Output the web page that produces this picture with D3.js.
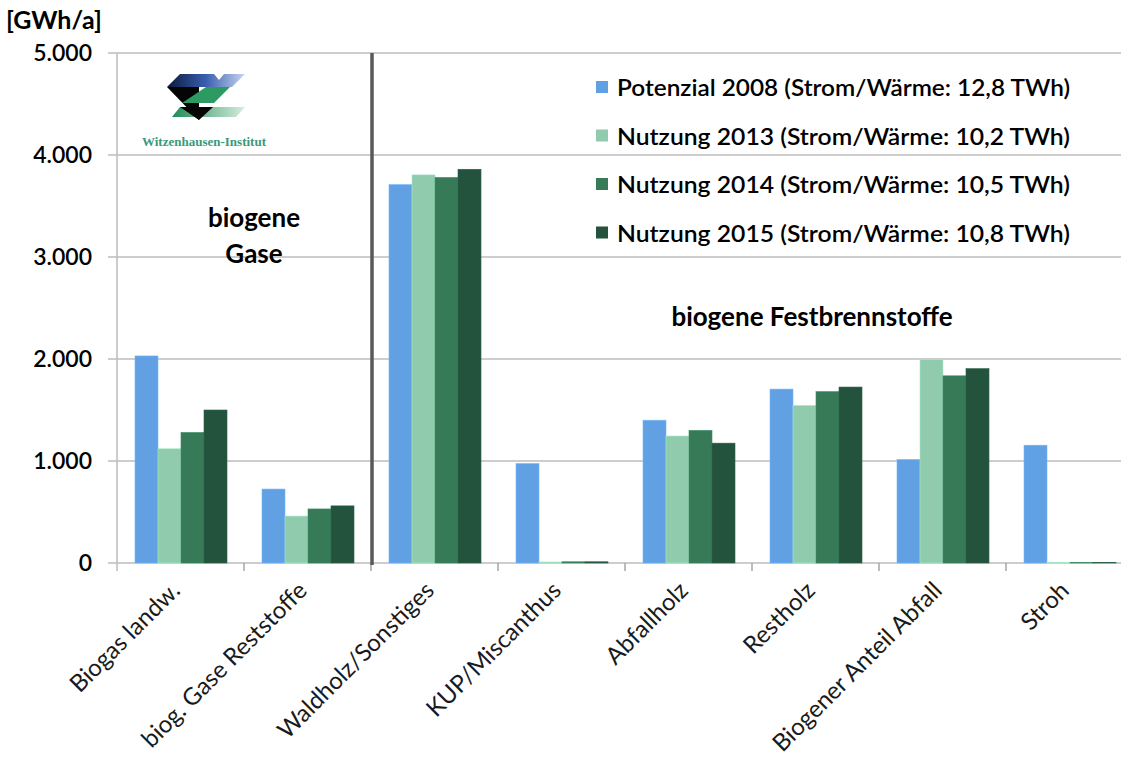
<!DOCTYPE html>
<html><head><meta charset="utf-8">
<script src="https://cdn.jsdelivr.net/npm/d3@7"></script>
<style>body{margin:0;background:#fff;} svg{display:block;font-family:Lato,"Open Sans",sans-serif;}</style>
</head><body>
<svg id="c" width="1123" height="762"></svg>
<script>
const categories = ["Biogas landw.","biog. Gase Reststoffe","Waldholz/Sonstiges","KUP/Miscanthus","Abfallholz","Restholz","Biogener Anteil Abfall","Stroh"];
const seriesNames = ["Potenzial 2008 (Strom/Wärme: 12,8 TWh)","Nutzung 2013 (Strom/Wärme: 10,2 TWh)","Nutzung 2014 (Strom/Wärme: 10,5 TWh)","Nutzung 2015 (Strom/Wärme: 10,8 TWh)"];
const potenzial2008 = [2030, 725, 3710, 975, 1400, 1705, 1015, 1155];
const nutzung2013  = [1120, 460, 3805, 10, 1245, 1545, 1995, 5];
const nutzung2014  = [1280, 530, 3780, 12, 1300, 1680, 1835, 5];
const nutzung2015  = [1500, 560, 3860, 12, 1175, 1725, 1905, 5];
const yTicks = [0,1000,2000,3000,4000,5000];
const yTickLabels = ["0","1.000","2.000","3.000","4.000","5.000"];
const colors = ["#62A0E4","#90CBAE","#367A58","#24533D"];

const series = [potenzial2008, nutzung2013, nutzung2014, nutzung2015];
const svg = d3.select("#c");
const x0 = d3.scaleBand().domain(categories).range([117,1133]).paddingInner(0).paddingOuter(0);
const x1 = d3.scaleBand().domain(d3.range(4)).range([18, 18+92]);
const y = d3.scaleLinear().domain([0,5000]).range([563,53]);
const plotRight = 1121;

// gridlines
svg.append("g").selectAll("line").data(yTicks).join("line")
  .attr("x1",108).attr("x2",plotRight).attr("y1",d=>y(d)).attr("y2",d=>y(d))
  .attr("stroke","#BDBDBD").attr("stroke-width",1.5);
// y axis line
svg.append("line").attr("x1",117).attr("x2",117).attr("y1",53).attr("y2",571).attr("stroke","#BDBDBD").attr("stroke-width",1.5);
// category ticks
svg.append("g").selectAll("line").data(categories.slice(1)).join("line")
  .attr("x1",d=>x0(d)).attr("x2",d=>x0(d)).attr("y1",563).attr("y2",571)
  .attr("stroke","#A6A6A6").attr("stroke-width",1.5);

// y tick labels
svg.append("g").selectAll("text").data(yTicks).join("text")
  .attr("x",92).attr("y",d=>y(d)+8).attr("text-anchor","end")
  .attr("font-size",23).attr("font-weight",600).attr("fill","#000")
  .text((d,i)=>yTickLabels[i]);
svg.append("text").attr("x",6).attr("y",29).attr("font-size",25).attr("font-weight",700).text("[GWh/a]");

// bars
const g = svg.append("g");
categories.forEach((c,ci)=>{
  series.forEach((s,si)=>{
    g.append("rect")
      .attr("x", x0(c)+x1(si)).attr("width", x1.bandwidth())
      .attr("y", y(s[ci])).attr("height", y(0)-y(s[ci]))
      .attr("fill", colors[si]).attr("stroke", d3.color(colors[si]).brighter(0.4)).attr("stroke-width",0.6);
  });
});

// divider
svg.append("line").attr("x1",372).attr("x2",372).attr("y1",53).attr("y2",565).attr("stroke","#595959").attr("stroke-width",3.5);

// x labels
svg.append("g").selectAll("text").data(categories).join("text")
  .attr("transform",d=>`translate(${x0(d)+x0.bandwidth()/2+1},${592}) rotate(-45)`)
  .attr("text-anchor","end").attr("font-size",24).attr("fill","#1a1a1a")
  .text(d=>d);

// legend
const leg = svg.append("g");
seriesNames.forEach((n,i)=>{
  const yy = 88 + i*48.5;
  leg.append("rect").attr("x",596).attr("y",yy-7).attr("width",12).attr("height",12).attr("fill",colors[i]);
  leg.append("text").attr("x",617).attr("y",yy+8).attr("font-size",23).attr("font-weight",600)
    .attr("textLength",453).attr("lengthAdjust","spacingAndGlyphs").text(n);
});

// group labels
svg.append("text").attr("x",254).attr("y",227).attr("text-anchor","middle").attr("font-size",26).attr("font-weight",700).text("biogene");
svg.append("text").attr("x",254).attr("y",263).attr("text-anchor","middle").attr("font-size",26).attr("font-weight",700).text("Gase");
svg.append("text").attr("x",812).attr("y",326).attr("text-anchor","middle").attr("font-size",26).attr("font-weight",700).text("biogene Festbrennstoffe");

// logo
const defs = svg.append("defs");
const gb = defs.append("linearGradient").attr("id","gblue").attr("x1","0").attr("x2","1");
gb.append("stop").attr("offset","0").attr("stop-color","#0a1a3a");
gb.append("stop").attr("offset","0.5").attr("stop-color","#3a5fb0");
gb.append("stop").attr("offset","1").attr("stop-color","#c9d6f2");
const gg = defs.append("linearGradient").attr("id","ggreen").attr("x1","0").attr("x2","1");
gg.append("stop").attr("offset","0").attr("stop-color","#1f8a55");
gg.append("stop").attr("offset","1").attr("stop-color","#d6eedf");
const logo = svg.append("g");
logo.append("polygon").attr("points","167,87 180,74 245,74 232,87").attr("fill","url(#gblue)");
logo.append("polygon").attr("points","167,87 199,87 199,120").attr("fill","#050505");
logo.append("polygon").attr("points","214,74 224,74 219,80").attr("fill","#fff");
logo.append("polygon").attr("points","182,103 206,87 230,87 214,103").attr("fill","#2e9a63");
logo.append("polygon").attr("points","180,107 245,107 236,117 172,117").attr("fill","url(#ggreen)");
logo.append("polygon").attr("points","180,107 213,107 199,120").attr("fill","#050505");
svg.append("text").attr("x",204).attr("y",146).attr("text-anchor","middle").attr("font-family","'Liberation Serif',serif")
  .attr("font-size",13).attr("font-weight",700).attr("fill","#3a9a78").text("Witzenhausen-Institut");
</script>
</body></html>
